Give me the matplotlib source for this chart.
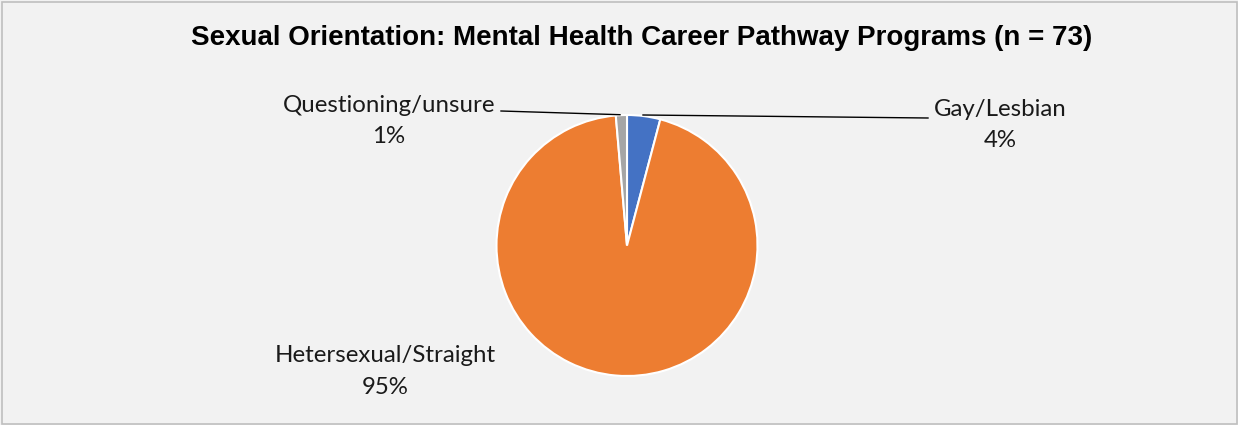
import matplotlib
matplotlib.use("Agg")
import matplotlib.pyplot as plt
from matplotlib.patches import Rectangle

categories = ["Gay/Lesbian", "Hetersexual/Straight", "Questioning/unsure"]
counts = [3, 69, 1]
colors = ["#4472C4", "#ED7D31", "#A5A5A5"]
title = "Sexual Orientation: Mental Health Career Pathway Programs (n = 73)"

W, H = 1238, 425
fig = plt.figure(figsize=(W / 100, H / 100), dpi=100)
fig.patch.set_facecolor("#F2F2F2")
ax = fig.add_axes([0, 0, 1, 1])
ax.set_xlim(0, W)
ax.set_ylim(0, H)
ax.set_aspect("equal")
ax.axis("off")

ax.add_patch(Rectangle((1.5, 1.5), W - 3, H - 3, fill=False, edgecolor="#BFBFBF", lw=1.2))

cx, cy, r = 627, H - 245.5, 130.5
wedges, _ = ax.pie(counts, colors=colors, startangle=90, counterclock=False,
                   center=(cx, cy), radius=r, frame=True,
                   wedgeprops=dict(edgecolor="white", linewidth=1.5))
ax.set_xlim(0, W)
ax.set_ylim(0, H)
ax.set_aspect("equal")
ax.axis("off")

total = sum(counts)
pct = [f"{round(100 * c / total)}%" for c in counts]

lab_font = dict(family=["Lato", "DejaVu Sans"], fontsize=17.3, color="#1a1a1a", ha="center", va="center")
label_pos = {0: (1000, 109), 1: (385, 356), 2: (389, 105)}
for i, (x, y) in label_pos.items():
    ax.text(x, H - y, categories[i], **lab_font)
    ax.text(x, H - y - 31, pct[i], **lab_font)

# leader lines
ax.plot([501, 620], [H - 111, H - 114.7], color="black", lw=1.0)
ax.plot([643, 928], [H - 115, H - 118], color="black", lw=1.0)

ax.text(642, H - 38, title, family=["Liberation Sans", "DejaVu Sans"], fontweight="bold",
        fontsize=20, ha="center", va="center", color="black")

fig.savefig("out.png", dpi=100, facecolor=fig.get_facecolor())
